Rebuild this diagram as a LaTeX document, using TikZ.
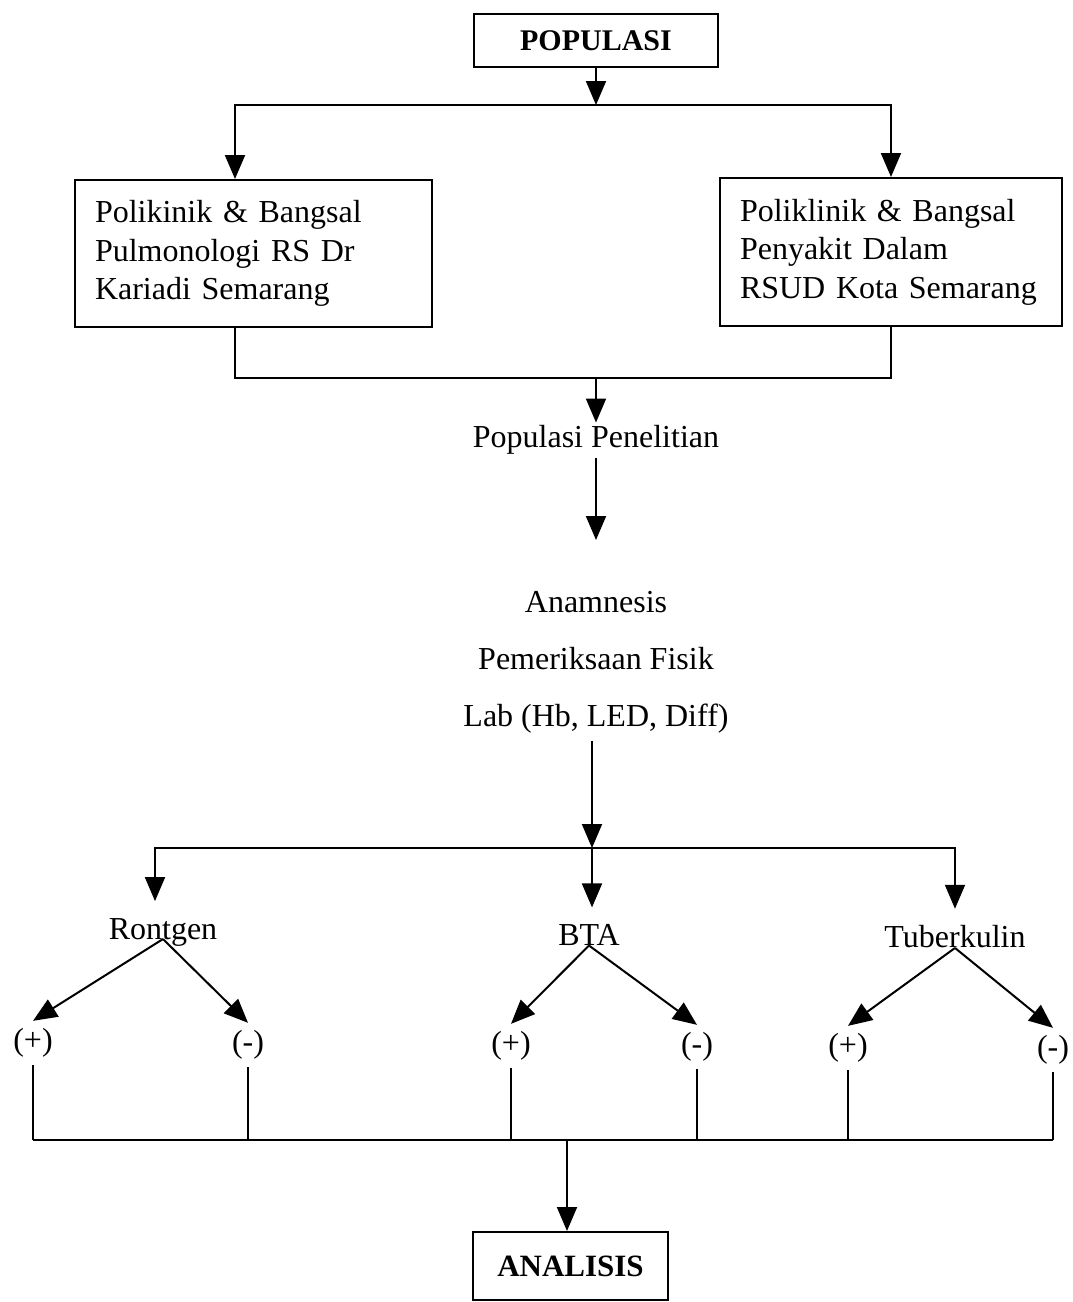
\documentclass[tikz,border=0pt]{standalone}
\usepackage{fontspec}
\setmainfont{Liberation Serif}
\usetikzlibrary{arrows.meta}
\begin{document}
\begin{tikzpicture}[x=0.5pt,y=-0.5pt,line width=1pt,font=\fontsize{16}{19.3}\selectfont]
\tikzstyle{H}=[draw,font=\fontsize{15}{18}\selectfont\bfseries,inner sep=0pt]
\tikzstyle{R}=[draw,align=left,inner xsep=10pt]
\tikzstyle{L}=[inner ysep=8pt]
\tikzstyle{A}=[-{Triangle[length=12pt,width=10pt]}]
\useasboundingbox (0,0) rectangle (1072,1302);
\node[H,minimum width=122pt,minimum height=26.5pt](pop) at (596,40.5){POPULASI};
\node[R,text width=158.5pt,minimum height=73.5pt](rs1) at (253.5,253.5){Polikinik \& Bangsal\\Pulmonologi RS Dr\\Kariadi Semarang};
\node[R,text width=151pt,minimum height=74pt](rs2) at (891,252){Poliklinik \& Bangsal\\Penyakit Dalam\\RSUD Kota Semarang};
\node[inner ysep=1pt](pp) at (596,440){Populasi Penelitian};
\node[align=center,font=\fontsize{16}{28.5}\selectfont](ex) at (596,662){Anamnesis\\Pemeriksaan Fisik\\Lab (Hb, LED, Diff)};
\node[L](ro) at (163,932){Rontgen};
\node[L](bta) at (589,935){BTA};
\node[L](tub) at (955,937){Tuberkulin};
\node(rp) at (33,1043){(+)};
\node(rm) at (248,1045){(-)};
\node(bp) at (511,1046){(+)};
\node(bm) at (697,1047){(-)};
\node(tp) at (848,1048){(+)};
\node(tm) at (1053,1050){(-)};
\node[H,minimum width=97.5pt,minimum height=34pt,font=\fontsize{15.5}{18}\selectfont\bfseries](ana) at (570.5,1266){ANALISIS};
\coordinate(j1) at (596,105);
\coordinate(j2) at (596,378);
\coordinate(t1) at (596,540);
\coordinate(j3) at (592,848);
\coordinate(bl) at (567,1140);
\draw[A](pop)--(j1);
\draw[A](j1)-|([xshift=-9.25pt]rs1.north);
\draw[A](j1)-|(rs2.north);
\draw([xshift=-9.25pt]rs1.south)|-(j2)-|(rs2.south);
\draw[A](j2)--(pp);
\draw[A](pp)--(t1);
\draw[A](ex.south-|j3)--(j3);
\draw[A](j3)-|([xshift=-4pt]ro.north);
\draw[A](j3)--(j3|-bta.north);
\draw[A](j3)-|(tub.north);
\draw[A](ro.base)--(rp.north);
\draw[A](ro.base)--(rm.north);
\draw[A](bta.base)--(bp.north);
\draw[A](bta.base)--(bm.north);
\draw[A](tub.base)--(tp.north);
\draw[A](tub.base)--(tm.north);
\foreach \s in {rp,rm,bp,bm,tp,tm}
  \draw(\s)--(\s|-bl);
\draw(rp|-bl)--(tm|-bl);
\draw[A](bl)--(bl|-ana.north);
\end{tikzpicture}
\end{document}
